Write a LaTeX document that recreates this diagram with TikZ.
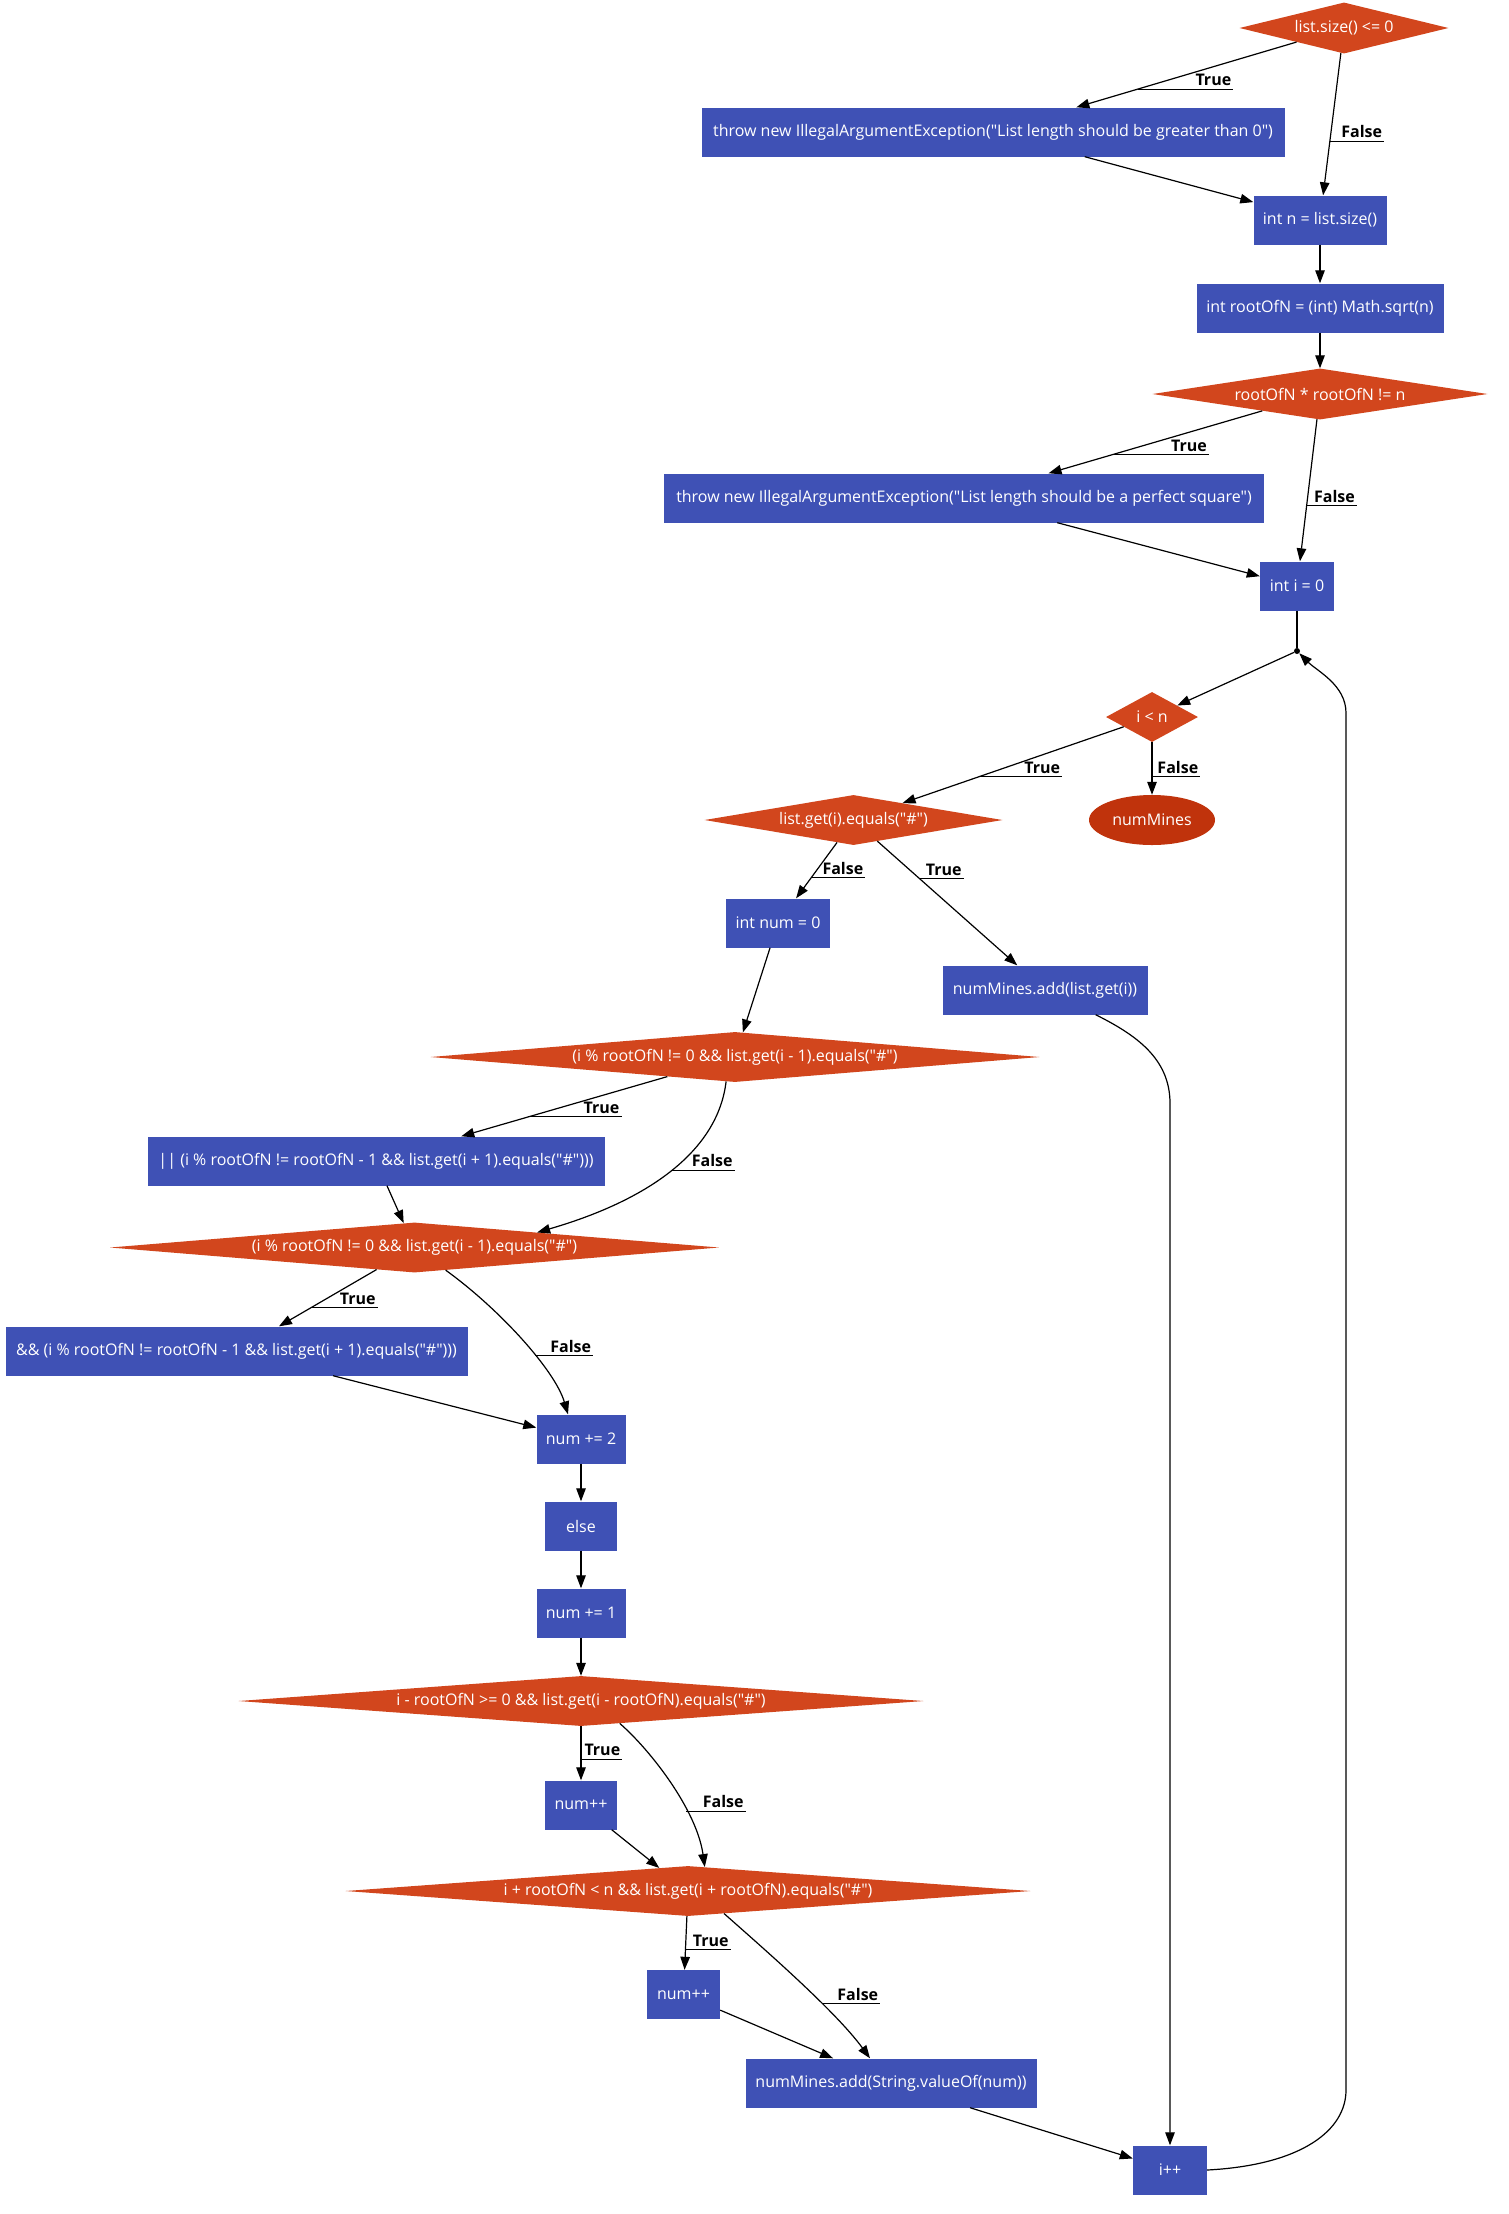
\documentclass[tikz,border=0pt]{standalone}
\usepackage{fontspec}
\newfontfamily\flowfont{Open Sans}
\usepackage{tikz}
\usetikzlibrary{arrows.meta,shapes.geometric,calc}
\definecolor{stmtblue}{HTML}{3F51B5}
\definecolor{condorange}{HTML}{D2461D}
\definecolor{endred}{HTML}{C0330C}
\tikzset{
  stmtbox/.style={
    rectangle, fill=stmtblue, text=white,
    minimum width=#1, minimum height=49pt,
    inner sep=0pt
  },
  stmtbox/.default=72pt,
  condbox/.style={
    diamond, fill=condorange, text=white,
    minimum width=#1, minimum height=50pt,
    inner sep=0pt
  },
  endbox/.style={ellipse, fill=endred, text=white,
    minimum width=126pt, minimum height=50pt, inner sep=0pt},
  flowarrow/.style={
    -{Triangle[length=13pt,width=9.5pt]}, line width=1.2pt, black
  },
  branchlabel/.style={
    font=\flowfont\fontsize{16}{19}\selectfont\bfseries, anchor=south west,
    inner xsep=2pt, inner ysep=3pt, text width=#1, align=right,
    append after command={(\tikzlastnode.south west) edge[-, line width=1pt] (\tikzlastnode.south east)}
  },
  joinpoint/.style={circle, fill=black, inner sep=0pt, minimum size=6pt},
}

\begin{document}
\begin{tikzpicture}[
  x=1pt, y=-1pt,
  font=\flowfont\fontsize{16}{19}\selectfont
]
\path[use as bounding box, fill=white] (0,0) rectangle (1508,2214);

% setup
\node[condbox=209, aspect=4.1, minimum height=51] (sizecheck) at (1344,28) {list.size() <= 0};
\node[stmtbox=583] (throwzero) at (993,132) {throw new IllegalArgumentException("List length should be greater than 0")};
\node[stmtbox=133] (initn) at (1320,220) {int n = list.size()};
\node[stmtbox=247] (initroot) at (1320,308) {int rootOfN = (int) Math.sqrt(n)};
\node[condbox=335, aspect=6.6, minimum height=51] (squarecheck) at (1320,394) {rootOfN * rootOfN != n};
\node[stmtbox=600] (throwsquare) at (964,498) {throw new IllegalArgumentException("List length should be a perfect square")};
\node[stmtbox=74] (initi) at (1297,586) {int i = 0};
\node[joinpoint] (loopjoin) at (1297,651) {};

% loop body
\node[condbox=92, aspect=1.84] (loopcond) at (1152,717) {i < n};
\node[condbox=298, aspect=6] (ismine) at (853.5,820) {list.get(i).equals("\#")};
\node[endbox] (result) at (1152,820) {numMines};
\node[stmtbox=104] (initnum) at (778,923) {int num = 0};
\node[stmtbox=205] (addmine) at (1045,990) {numMines.add(list.get(i))};
\node[condbox=609, aspect=12.2] (leftcheck) at (735,1057) {(i \% rootOfN != 0 \&\& list.get(i - 1).equals("\#")};
\node[stmtbox=457] (rightor) at (376,1161) {|| (i \% rootOfN != rootOfN - 1 \&\& list.get(i + 1).equals("\#")))};
\node[condbox=609, aspect=12.2] (leftcheckb) at (414.5,1247.5) {(i \% rootOfN != 0 \&\& list.get(i - 1).equals("\#")};
\node[stmtbox=462] (rightand) at (236.5,1351) {\&\& (i \% rootOfN != rootOfN - 1 \&\& list.get(i + 1).equals("\#")))};
\node[stmtbox=89] (addtwo) at (581,1439) {num += 2};
\node[stmtbox=72] (elsebox) at (581,1526) {else};
\node[stmtbox=89] (addone) at (581,1613) {num += 1};
\node[condbox=685, aspect=13.7] (upcheck) at (581,1701) {i - rootOfN >= 0 \&\& list.get(i - rootOfN).equals("\#")};
\node[stmtbox=72] (upinc) at (581,1805) {num++};
\node[condbox=685, aspect=13.7] (downcheck) at (688,1891) {i + rootOfN < n \&\& list.get(i + rootOfN).equals("\#")};
\node[stmtbox=73] (downinc) at (683.5,1994.5) {num++};
\node[stmtbox=291] (addcount) at (891,2083) {numMines.add(String.valueOf(num))};
\node[stmtbox=74] (incr) at (1170,2170) {i++};

\coordinate (loopbot) at (1346,2090);
\coordinate (looptop) at (1346,713);

% connectors
\draw[flowarrow] (sizecheck) -- coordinate[pos=.72] (lbla) (throwzero);
\draw[flowarrow] (sizecheck) -- coordinate[pos=.62] (lblb) (initn);
\draw[flowarrow] (throwzero) -- (initn);
\draw[flowarrow] (initn) -- (initroot);
\draw[flowarrow] (initroot) -- (squarecheck);
\draw[flowarrow] (squarecheck) -- coordinate[pos=.70] (lblc) (throwsquare);
\draw[flowarrow] (squarecheck) -- coordinate[pos=.61] (lbld) (initi);
\draw[flowarrow] (throwsquare) -- (initi);
\draw[line width=1.2pt] (initi) -- (loopjoin);
\draw[flowarrow] (loopjoin) -- (loopcond);
\draw[flowarrow] (loopcond) -- coordinate[pos=.65] (lble) (ismine);
\draw[flowarrow] (loopcond) -- coordinate[pos=.65] (lblf) (result);
\draw[flowarrow] (ismine) -- coordinate[pos=.635] (lblg) (initnum);
\draw[flowarrow] (ismine) -- coordinate[pos=.30] (lblh) (addmine);
\draw[flowarrow] (initnum) -- (leftcheck);
\draw[flowarrow] (addmine.-26) .. controls +(40,20) and +(0,-45) .. ($(incr.north)+(0,-1042)$) -- (incr.north);
\draw[flowarrow] (leftcheck) -- coordinate[pos=.675] (lbli) (rightor);
\draw[flowarrow] (leftcheck.-110) .. controls +(-8,68) and +(114,-33) .. coordinate[pos=.5] (lblj) (leftcheckb.7);
\draw[flowarrow] (rightor) -- (leftcheckb);
\draw[flowarrow] (leftcheckb) -- coordinate[pos=.667] (lblk) (rightand);
\draw[flowarrow] (leftcheckb.-36) .. controls +(54,39) and +(-13,-44) .. coordinate[pos=.6] (lbll) ($(addtwo.north)+(-13,0)$);
\draw[flowarrow] (rightand) -- (addtwo);
\draw[flowarrow] (addtwo) -- (elsebox);
\draw[flowarrow] (elsebox) -- (addone);
\draw[flowarrow] (addone) -- (upcheck);
\draw[flowarrow] (upcheck) -- coordinate[pos=.61] (lblm) (upinc);
\draw[flowarrow] (upcheck.-30) .. controls +(31,27) and +(-8,-57) .. coordinate[pos=.67] (lbln) (downcheck.55);
\draw[flowarrow] (upinc) -- (downcheck);
\draw[flowarrow] (downcheck) -- coordinate[pos=.63] (lblo) (downinc);
\draw[flowarrow] (downcheck.-32) .. controls +(36,32) and +(-35,-48) .. coordinate[pos=.65] (lblp) ($(addcount.north)+(-21,0)$);
\draw[flowarrow] (downinc) -- (addcount);
\draw[flowarrow] (addcount) -- (incr);
\draw[flowarrow] (incr.east) .. controls +(95,-5) and +(0,40) .. (loopbot) -- (looptop) .. controls +(0,-28) and +(20,20) .. (loopjoin);

% branch labels
\node[branchlabel=91] at (lbla) {True};
\node[branchlabel=50] at (lblb) {False};
\node[branchlabel=92] at (lblc) {True};
\node[branchlabel=46] at (lbld) {False};
\node[branchlabel=78] at (lble) {True};
\node[branchlabel=44] at (lblf) {False};
\node[branchlabel=50] at (lblg) {False};
\node[branchlabel=40] at (lblh) {True};
\node[branchlabel=89] at (lbli) {True};
\node[branchlabel=59] at (lblj) {False};
\node[branchlabel=62] at (lblk) {True};
\node[branchlabel=54] at (lbll) {False};
\node[branchlabel=37] at (lblm) {True};
\node[branchlabel=55] at (lbln) {False};
\node[branchlabel=41] at (lblo) {True};
\node[branchlabel=54] at (lblp) {False};
\end{tikzpicture}
\end{document}
